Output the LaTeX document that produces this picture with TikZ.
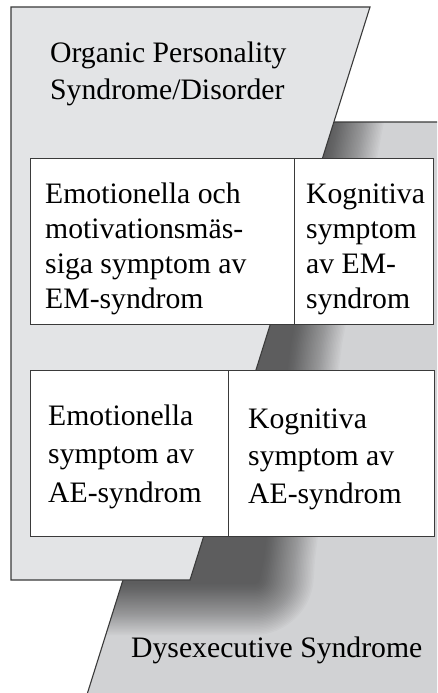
\documentclass[tikz,border=0pt]{standalone}
\usepackage{fontspec}
\setmainfont{Liberation Serif}
\definecolor{lightfill}{HTML}{E3E4E6}
\definecolor{darkfill}{HTML}{D1D2D4}
\definecolor{edgecol}{HTML}{3A3A3A}
\newcommand\stk[1]{\vtop{\halign{##\hfil\cr#1\crcr}}}
\begin{document}
\begin{tikzpicture}[x=1pt,y=-1pt,
  txt/.style={anchor=base west, inner sep=0pt, font=\fontsize{29.7}{#1}\selectfont},
  cell/.style={draw=edgecol, line width=1.3pt, fill=white, anchor=north west,
               inner sep=0pt, minimum height=166pt},
  outline/.style={draw=edgecol, line width=1.1pt}]
\useasboundingbox (0,0) rectangle (437,693);
\clip (0,0) rectangle (437,693);
% Dysexecutive shape
\fill[darkfill] (266.8,122) -- (445,122) -- (445,700) -- (85.3,700) -- cycle;
\begin{scope}
  \clip (266.8,122) -- (445,122) -- (445,700) -- (85.3,700) -- cycle;
  \foreach \w in {-26,-24.5,...,26}{
    \pgfmathsetmacro\r{max(2,30+\w)}
    \fill[black, opacity=0.018]
      (0,90) -- (365+\w,90) -- (317+\w,345) -- (290+\w,560)
      [rounded corners=\r pt] -- (285+\w,610+\w) [sharp corners] -- (0,610+\w) -- cycle;
  }
\end{scope}
\draw[outline] (266.8,122) -- (445,122) -- (445,700) -- (85.3,700) -- cycle;
% Organic shape
\path[outline, fill=lightfill] (11,7) -- (370,7) -- (190,580) -- (11,580) -- cycle;
\node[txt=37] (org) at (50,63) {\stk{Organic Personality\cr Syndrome/Disorder}};
% EM box
\node[cell, minimum width=264pt] (emL) at (30,158) {};
\node[cell, minimum width=139pt] (emR) at (294,158) {};
\node[txt=35.3] (emLt) at (45,203) {\stk{Emotionella och\cr motivationsmäs-\cr siga symptom av\cr EM-syndrom}};
\node[txt=35.3] (emRt) at (306,203) {\stk{Kognitiva\cr symptom\cr av EM-\cr syndrom}};
% AE box
\node[cell, minimum width=198pt] (aeL) at (30,370) {};
\node[cell, minimum width=206pt] (aeR) at (228,370) {};
\node[txt=38.5] (aeLt) at (48,425) {\stk{Emotionella\cr symptom av\cr AE-syndrom}};
\node[txt=37.5] (aeRt) at (248,428) {\stk{Kognitiva\cr symptom av\cr AE-syndrom}};
% label
\node[txt=36] (dys) at (131,657) {Dysexecutive Syndrome};
\end{tikzpicture}
\end{document}
